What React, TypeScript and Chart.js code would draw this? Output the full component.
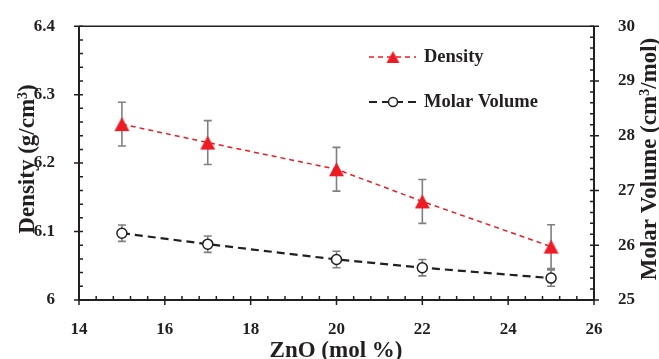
import React, { useEffect, useRef } from "react";
import { Chart, registerables } from "chart.js";
Chart.register(...registerables);

// ---- data ----
const znoMol = [15, 17, 20, 22, 25];
const densityValues = [6.257, 6.23, 6.191, 6.144, 6.078];
const densityErrors = [0.032, 0.032, 0.032, 0.032, 0.032];
const molarVolumeValues = [26.22, 26.02, 25.74, 25.59, 25.4];
const molarVolumeErrors = [0.15, 0.15, 0.15, 0.15, 0.15];

const seriesNames = ["Density", "Molar Volume"];
const xTitle = [{ t: "ZnO (mol %)" }];
const yLeftTitle = [{ t: "Density (g/cm" }, { t: "3", sup: true }, { t: ")" }];
const yRightTitle = [{ t: "Molar Volume (cm" }, { t: "3", sup: true }, { t: "/mol)" }];

const X_MIN = 14, X_MAX = 26, X_STEP = 2, X_MINOR = 0.4;
const YL_MIN = 6, YL_MAX = 6.4, YL_STEP = 0.1, YL_MINOR = 0.02;
const YR_MIN = 25, YR_MAX = 30, YR_STEP = 1, YR_MINOR = 0.2;

const FONT = '"Liberation Serif", "Times New Roman", serif';
const TEXT = "#231f20";
const RED = "#ed1c24";
const GRAY = "#808080";

function makeTriangle(w: number, h: number, color: string) {
  const c = document.createElement("canvas");
  c.width = Math.ceil(w) + 2;
  c.height = Math.ceil(h) + 2;
  const g = c.getContext("2d")!;
  g.fillStyle = color;
  g.beginPath();
  g.moveTo(c.width / 2, 1);
  g.lineTo(c.width / 2 + w / 2, 1 + h);
  g.lineTo(c.width / 2 - w / 2, 1 + h);
  g.closePath();
  g.fill();
  return c;
}

function drawRich(ctx: CanvasRenderingContext2D, parts: any[], x: number, y: number, rot: number, size: number) {
  ctx.save();
  ctx.translate(x, y);
  ctx.rotate(rot);
  ctx.fillStyle = TEXT;
  ctx.textBaseline = "alphabetic";
  ctx.textAlign = "left";
  const mainF = `bold ${size}px ${FONT}`;
  const supF = `bold ${Math.round(size * 0.62)}px ${FONT}`;
  let total = 0;
  const widths = parts.map((p) => {
    ctx.font = p.sup ? supF : mainF;
    const w = ctx.measureText(p.t).width;
    total += w;
    return w;
  });
  const base = size * 0.33;
  let cx = -total / 2;
  parts.forEach((p, i) => {
    ctx.font = p.sup ? supF : mainF;
    ctx.fillText(p.t, cx, p.sup ? base - size * 0.3 : base);
    cx += widths[i];
  });
  ctx.restore();
}

function minorValues(min: number, max: number, step: number) {
  const out: number[] = [];
  const n = Math.round((max - min) / step);
  for (let i = 0; i <= n; i++) out.push(min + i * step);
  return out;
}

let legendTri: HTMLCanvasElement;

const decoPlugin = {
  id: "deco",
  beforeDatasetsDraw(chart: any) {
    const ctx = chart.ctx;
    const xs = chart.scales.x;
    const sets = [
      { vals: densityValues, errs: densityErrors, scale: chart.scales.y },
      { vals: molarVolumeValues, errs: molarVolumeErrors, scale: chart.scales.y1 },
    ];
    ctx.save();
    ctx.strokeStyle = GRAY;
    ctx.lineWidth = 1.6;
    sets.forEach((s) => {
      s.vals.forEach((v, i) => {
        const px = xs.getPixelForValue(znoMol[i]);
        const y1 = s.scale.getPixelForValue(v + s.errs[i]);
        const y2 = s.scale.getPixelForValue(v - s.errs[i]);
        ctx.beginPath();
        ctx.moveTo(px, y1);
        ctx.lineTo(px, y2);
        ctx.moveTo(px - 4, y1);
        ctx.lineTo(px + 4, y1);
        ctx.moveTo(px - 4, y2);
        ctx.lineTo(px + 4, y2);
        ctx.stroke();
      });
    });
    ctx.restore();
  },
  afterDraw(chart: any) {
    const ctx = chart.ctx;
    const { left, right, top, bottom } = chart.chartArea;
    const xs = chart.scales.x, yl = chart.scales.y, yr = chart.scales.y1;
    ctx.save();
    ctx.strokeStyle = TEXT;
    ctx.lineWidth = 1.5;
    ctx.beginPath();
    ctx.moveTo(left, top);
    ctx.lineTo(right, top);
    ctx.stroke();
    ctx.lineWidth = 2;
    ctx.beginPath();
    ctx.moveTo(left, top);
    ctx.lineTo(left, bottom);
    ctx.lineTo(right, bottom);
    ctx.lineTo(right, top);
    ctx.stroke();
    ctx.lineWidth = 1.5;
    ctx.beginPath();
    minorValues(YL_MIN, YL_MAX, YL_MINOR).forEach((v, i) => {
      const p = yl.getPixelForValue(v);
      const major = i % Math.round(YL_STEP / YL_MINOR) === 0;
      ctx.moveTo(major ? left - 5 : left, p);
      ctx.lineTo(left + 4, p);
    });
    minorValues(YR_MIN, YR_MAX, YR_MINOR).forEach((v, i) => {
      const p = yr.getPixelForValue(v);
      const major = i % Math.round(YR_STEP / YR_MINOR) === 0;
      ctx.moveTo(major ? right + 5 : right, p);
      ctx.lineTo(right - 4, p);
    });
    minorValues(X_MIN, X_MAX, X_MINOR).forEach((v, i) => {
      const p = xs.getPixelForValue(v);
      const major = i % Math.round(X_STEP / X_MINOR) === 0;
      ctx.moveTo(p, major ? bottom + 5 : bottom);
      ctx.lineTo(p, bottom - 4);
    });
    ctx.stroke();
    ctx.restore();

    drawRich(ctx, xTitle, 336, 349, 0, 23);
    drawRich(ctx, yLeftTitle, 26, 159, -Math.PI / 2, 23);
    drawRich(ctx, yRightTitle, 648, 159, -Math.PI / 2, 23);

    const ds = chart.data.datasets;
    const items = [
      { y: 57, d: ds[0] },
      { y: 102, d: ds[1] },
    ];
    items.forEach((it, idx) => {
      ctx.save();
      ctx.strokeStyle = it.d.borderColor;
      ctx.lineWidth = it.d.borderWidth;
      ctx.setLineDash(it.d.borderDash);
      ctx.beginPath();
      ctx.moveTo(369, it.y);
      ctx.lineTo(416, it.y);
      ctx.stroke();
      ctx.setLineDash([]);
      if (idx === 0) {
        ctx.drawImage(legendTri, 393 - legendTri.width / 2, it.y - legendTri.height / 2);
      } else {
        ctx.beginPath();
        ctx.arc(393, it.y, 4.5, 0, Math.PI * 2);
        ctx.fillStyle = "#ffffff";
        ctx.fill();
        ctx.strokeStyle = TEXT;
        ctx.lineWidth = 1.5;
        ctx.stroke();
      }
      ctx.fillStyle = TEXT;
      ctx.font = `bold 18.5px ${FONT}`;
      ctx.textBaseline = "middle";
      ctx.textAlign = "left";
      ctx.fillText(seriesNames[idx], 424, it.y);
      ctx.restore();
    });
  },
};

export default function App() {
  const ref = useRef<HTMLCanvasElement>(null);
  useEffect(() => {
    const tri = makeTriangle(15, 14, RED);
    legendTri = makeTriangle(13, 12, RED);
    const fmt = (v: any) => String(Number(Number(v).toFixed(2)));
    const tickFont = { family: FONT, size: 17, weight: "bold" as const };
    const chart = new Chart(ref.current!, {
      type: "line",
      data: {
        datasets: [
          {
            label: seriesNames[0],
            data: znoMol.map((x, i) => ({ x, y: densityValues[i] })),
            yAxisID: "y",
            borderColor: RED,
            borderWidth: 1.5,
            borderDash: [5, 4],
            pointStyle: tri as any,
            pointRadius: 8,
            backgroundColor: RED,
            fill: false,
          },
          {
            label: seriesNames[1],
            data: znoMol.map((x, i) => ({ x, y: molarVolumeValues[i] })),
            yAxisID: "y1",
            borderColor: TEXT,
            borderWidth: 2.2,
            borderDash: [8, 5],
            pointStyle: "circle",
            pointRadius: 5,
            pointBackgroundColor: "#ffffff",
            pointBorderColor: TEXT,
            pointBorderWidth: 1.5,
            fill: false,
          },
        ],
      },
      options: {
        responsive: false,
        animation: false,
        devicePixelRatio: 1,
        layout: { padding: { top: 19, left: 0, right: 0, bottom: 0 } },
        plugins: { legend: { display: false }, tooltip: { enabled: false } },
        scales: {
          x: {
            type: "linear",
            min: X_MIN,
            max: X_MAX,
            grid: { display: false },
            border: { display: false },
            ticks: { stepSize: X_STEP, color: TEXT, font: tickFont, padding: 11, callback: fmt },
            afterFit: (s: any) => { s.height = 59; },
          },
          y: {
            type: "linear",
            position: "left",
            min: YL_MIN,
            max: YL_MAX,
            grid: { display: false },
            border: { display: false },
            ticks: { stepSize: YL_STEP, color: TEXT, font: tickFont, padding: 16, callback: fmt },
            afterFit: (s: any) => { s.width = 79; },
          },
          y1: {
            type: "linear",
            position: "right",
            min: YR_MIN,
            max: YR_MAX,
            grid: { display: false },
            border: { display: false },
            ticks: { stepSize: YR_STEP, color: TEXT, font: tickFont, padding: 16, callback: fmt },
            afterFit: (s: any) => { s.width = 65; },
          },
        },
      },
      plugins: [decoPlugin],
    });
    return () => chart.destroy();
  }, []);
  return (
    <div style={{ position: "absolute", left: 0, top: 0, width: 659, height: 359, background: "#fff" }}>
      <canvas ref={ref} width={659} height={359} style={{ display: "block" }} />
    </div>
  );
}
